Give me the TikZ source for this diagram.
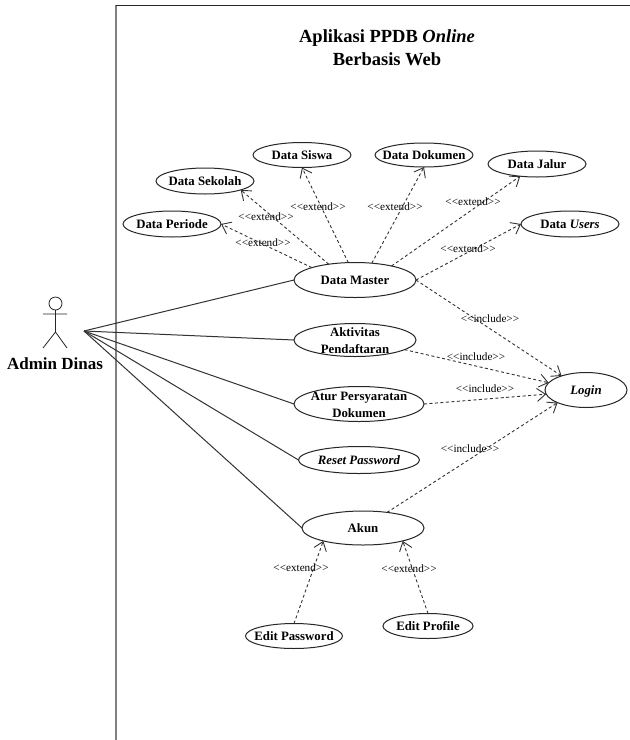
\documentclass[tikz,border=0pt]{standalone}
\usepackage{fontspec}
\setmainfont{Liberation Serif}
\usetikzlibrary{arrows.meta,shapes.geometric}
\newcommand\uct[1]{\makebox[0pt]{\raisebox{0pt}[8pt][0pt]{#1}}}
\newcommand\uctt[2]{\makebox[0pt]{\raisebox{0pt}[9pt][0pt]{\begin{tabular}{@{}c@{}}#1\\#2\end{tabular}}}}
\tikzset{
  x=1pt,y=-1pt,
  ink/.style={draw=black!85,line width=1pt},
  uc/.style 2 args={ellipse,ink,fill=white,inner sep=0pt,outer sep=0pt,minimum width=#1pt,minimum height=#2pt,
     font=\fontsize{12.8}{17.5}\selectfont\bfseries},
  lbl/.style={font=\fontsize{11.2}{13}\selectfont,text=black,inner sep=0pt},
  rel/.style={draw=black!80,line width=0.9pt,dash pattern=on 3pt off 2.5pt,-{Straight Barb[length=8.5pt,width=13pt]}},
  assoc/.style={draw=black!80,line width=1pt},
}
\begin{document}
\begin{tikzpicture}
\useasboundingbox (0,0) rectangle (630,740);
\fill[white] (0,0) rectangle (630,740);
% system boundary
\draw[draw=black!50,line width=1.3pt] (116,5) -- (116,740);
\draw[draw=black!85,line width=1pt] (115.5,5) -- (630,5);
\node[inner sep=0pt,align=center,font=\fontsize{18.5}{23}\selectfont\bfseries] (title) at (387,48) {Aplikasi PPDB \textit{Online}\\Berbasis Web};
% actor
\draw[ink,line width=0.8pt] (55.5,303.5) circle (6.5);
\draw[ink,line width=0.8pt] (43,314) -- (67,314) (55.5,310) -- (55.5,332) (43,348) -- (55.5,332) -- (67,348);
\node[inner sep=0pt,font=\fontsize{17}{20}\selectfont\bfseries] (admin) at (55,364) {Admin Dinas};
\coordinate (hand) at (84,331);
% use cases
\node[uc={98}{26}] (sekolah) at (205,181) {\uct{Data Sekolah}};
\node[uc={98}{25}] (siswa) at (302,155) {\uct{Data Siswa}};
\node[uc={98}{26}] (periode) at (172,224) {\uct{Data Periode}};
\node[uc={98}{24}] (dokumen) at (424,155) {\uct{Data Dokumen}};
\node[uc={98}{26}] (jalur) at (537,164) {\uct{Data Jalur}};
\node[uc={98}{26}] (users) at (570,224) {\uct{Data \textit{Users}}};
\node[uc={122}{35}] (master) at (355,280) {\uct{Data Master}};
\node[uc={122}{33}] (aktivitas) at (355,340) {\uctt{Aktivitas}{Pendaftaran}};
\node[uc={130}{35}] (atur) at (359,404) {\uctt{Atur Persyaratan}{Dokumen}};
\node[uc={121}{27}] (reset) at (359,460) {\uct{\textit{Reset Password}}};
\node[uc={122}{34}] (akun) at (363,528) {\uct{Akun}};
\node[uc={82}{35}] (login) at (586,390) {\uct{\textit{Login}}};
\node[uc={97}{25}] (editpass) at (294,636) {\uct{Edit Password}};
\node[uc={90}{25}] (editprof) at (428,626) {\uct{Edit Profile}};
% associations
\draw[assoc] (hand) -- (master.west);
\draw[assoc] (hand) -- (aktivitas.west);
\draw[assoc] (hand) -- (atur.west);
\draw[assoc] (hand) -- (reset.west);
\draw[assoc] (hand) -- (akun.west);
% extend / include
\draw[rel] (master.164) -- (periode.east);
\draw[rel] (master.149) -- (sekolah.-14);
\draw[rel] (master.111) -- (siswa.south);
\draw[rel] (master.45) -- (dokumen.south);
\draw[rel] (master.21) -- (jalur.216);
\draw[rel] (master.east) -- (users.west);
\draw[rel] (master.east) -- (login.150);
\draw[rel] (aktivitas.-11) -- (login.169);
\draw[rel] (atur.east) -- (login.186);
\draw[rel] (akun.33) -- (login.204);
\draw[rel] (editpass.north) -- (akun.198);
\draw[rel] (editprof.north) -- (akun.-18);
% labels
\node[lbl] (l1) at (263,243) {<{}<extend>{}>};
\node[lbl] (l2) at (266,217) {<{}<extend>{}>};
\node[lbl] (l3) at (318,207) {<{}<extend>{}>};
\node[lbl] (l4) at (395,207) {<{}<extend>{}>};
\node[lbl] (l5) at (473,202) {<{}<extend>{}>};
\node[lbl] (l6) at (468,249) {<{}<extend>{}>};
\node[lbl] (l7) at (490,319) {<{}<include>{}>};
\node[lbl] (l8) at (476,357) {<{}<include>{}>};
\node[lbl] (l9) at (485,389) {<{}<include>{}>};
\node[lbl] (l10) at (470,449) {<{}<include>{}>};
\node[lbl] (l11) at (301,568) {<{}<extend>{}>};
\node[lbl] (l12) at (409,569) {<{}<extend>{}>};
\end{tikzpicture}
\end{document}
